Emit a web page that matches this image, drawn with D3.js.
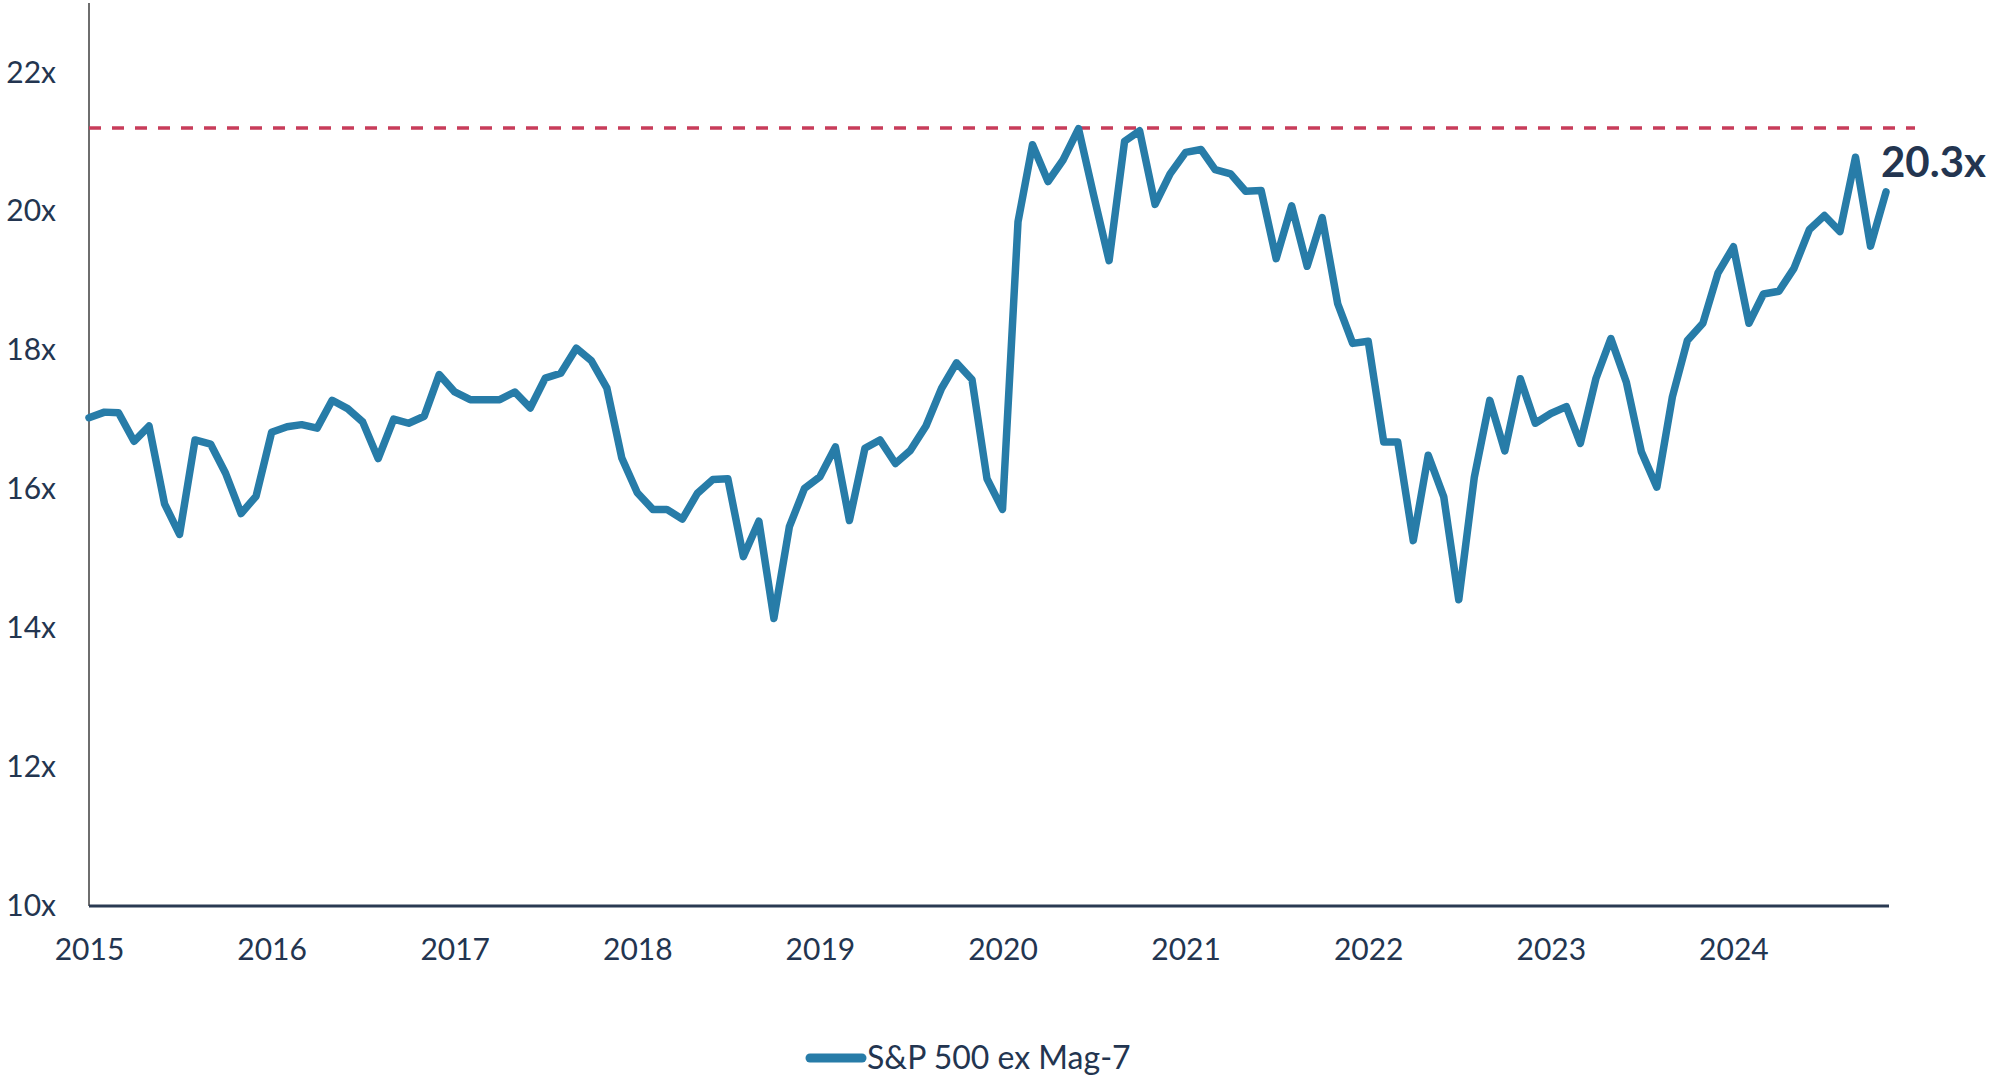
<!DOCTYPE html>
<html>
<head>
<meta charset="utf-8">
<script src="https://cdn.jsdelivr.net/npm/d3@7"></script>
<style>
  body { margin: 0; background: #fff; }
  text { font-family: Lato, "Open Sans", sans-serif; fill: #233550; }
</style>
</head>
<body>
<div id="chart"></div>
<script>
// Forward P/E, S&P 500 ex Mag-7, monthly Jan 2015 - Nov 2024
var months = d3.timeMonth.range(new Date(2015, 0, 1), new Date(2024, 11, 1));

var peValues = [
  17.03, 17.11, 17.10, 16.69, 16.91, 15.79, 15.35, 16.71, 16.65, 16.23, 15.65, 15.90,
  16.82, 16.90, 16.93, 16.88, 17.28, 17.16, 16.97, 16.44, 17.01, 16.95, 17.05, 17.65,
  17.40, 17.29, 17.29, 17.29, 17.40, 17.17, 17.60, 17.67, 18.03, 17.85, 17.46, 16.45,
  15.95, 15.71, 15.71, 15.57, 15.94, 16.14, 16.15, 15.03, 15.54, 14.14, 15.46, 16.01,
  16.18, 16.61, 15.55, 16.59, 16.71, 16.37, 16.56, 16.91, 17.45, 17.82, 17.58, 16.15,
  15.71, 19.85, 20.96, 20.43, 20.74, 21.19, 20.24, 19.29, 21.01, 21.16, 20.10, 20.54,
  20.85, 20.89, 20.60, 20.54, 20.29, 20.30, 19.32, 20.08, 19.21, 19.91, 18.67, 18.10,
  18.13, 16.68, 16.68, 15.26, 16.49, 15.89, 14.41, 16.17, 17.28, 16.55, 17.59, 16.95,
  17.09, 17.19, 16.66, 17.59, 18.17, 17.54, 16.54, 16.03, 17.33, 18.14, 18.39, 19.11,
  19.49, 18.39, 18.81, 18.85, 19.18, 19.74, 19.94, 19.71, 20.78, 19.50, 20.28
];

var yTicks = [10, 12, 14, 16, 18, 20, 22];
var xTickYears = [2015, 2016, 2017, 2018, 2019, 2020, 2021, 2022, 2023, 2024];
var peakLevel = 21.2;
var lastLabel = "20.3x";
var seriesName = "S&P 500 ex Mag-7";

var data = months.map(function(m, i) { return { date: m, value: peValues[i] }; });

var svgWidth = 1993;
var svgHeight = 1076;

var margin = { top: 3, right: 104, bottom: 170, left: 89 };
var width = svgWidth - margin.left - margin.right;
var height = svgHeight - margin.top - margin.bottom;

var svg = d3.select("#chart")
  .append("svg")
  .attr("width", svgWidth)
  .attr("height", svgHeight);

var chartGroup = svg.append("g")
  .attr("transform", `translate(${margin.left}, ${margin.top})`);

var xScale = d3.scaleTime()
  .domain([months[0], months[months.length - 1]])
  .range([0, width - 3]);

var yScale = d3.scaleLinear()
  .domain([10, 23])
  .range([height, 0]);

// y axis labels, no ticks
var leftAxis = d3.axisLeft(yScale)
  .tickValues(yTicks)
  .tickSize(0)
  .tickPadding(33)
  .tickFormat(d => d + "x");

var yAxisG = chartGroup.append("g").call(leftAxis);
yAxisG.select(".domain").remove();
yAxisG.selectAll("text").style("font-size", "30px").attr("fill", "#233550");

chartGroup.append("line")
  .attr("x1", 0).attr("x2", 0)
  .attr("y1", 0).attr("y2", height)
  .attr("stroke", "#6e6e6e")
  .attr("stroke-width", 2);

// x axis
var bottomAxis = d3.axisBottom(xScale)
  .tickValues(xTickYears.map(y => new Date(y, 0, 1)))
  .tickSize(0)
  .tickPadding(33)
  .tickFormat(d3.timeFormat("%Y"));

var xAxisG = chartGroup.append("g")
  .attr("transform", `translate(0, ${height})`)
  .call(bottomAxis);
xAxisG.select(".domain").remove();
xAxisG.selectAll("text").style("font-size", "30px").attr("fill", "#233550");

chartGroup.append("line")
  .attr("x1", 0).attr("x2", width)
  .attr("y1", height).attr("y2", height)
  .attr("stroke", "#2a3a52")
  .attr("stroke-width", 3);

// dashed peak line
chartGroup.append("line")
  .attr("x1", 0)
  .attr("x2", 1826)
  .attr("y1", yScale(peakLevel))
  .attr("y2", yScale(peakLevel))
  .attr("stroke", "#c83c5a")
  .attr("stroke-width", 3.5)
  .attr("stroke-dasharray", "12,11");

// series line
var line = d3.line()
  .x(d => xScale(d.date))
  .y(d => yScale(d.value));

chartGroup.append("path")
  .datum(data)
  .attr("fill", "none")
  .attr("stroke", "#277ca8")
  .attr("stroke-width", 7.5)
  .attr("stroke-linejoin", "round")
  .attr("stroke-linecap", "round")
  .attr("d", line);

// end label
var last = data[data.length - 1];
chartGroup.append("text")
  .attr("x", xScale(last.date) - 5)
  .attr("y", yScale(last.value) - 15)
  .style("font-size", "42px")
  .style("font-weight", "bold")
  .text(lastLabel);

// legend
var legend = svg.append("g").attr("transform", "translate(810, 1058)");
legend.append("line")
  .attr("x1", 0).attr("x2", 52)
  .attr("y1", 0).attr("y2", 0)
  .attr("stroke", "#277ca8")
  .attr("stroke-width", 9)
  .attr("stroke-linecap", "round");
legend.append("text")
  .attr("x", 57)
  .attr("y", 11)
  .style("font-size", "32px")
  .text(seriesName);
</script>
</body>
</html>
